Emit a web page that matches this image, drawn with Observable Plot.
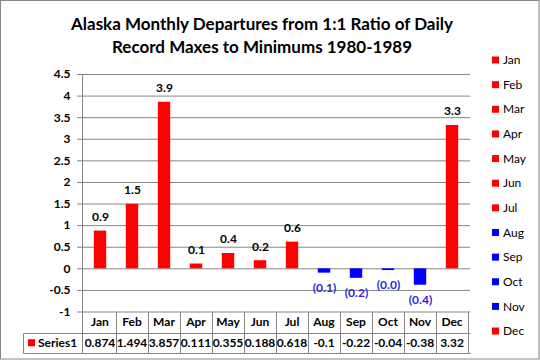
<!DOCTYPE html>
<html><head><meta charset="utf-8">
<script src="https://cdn.jsdelivr.net/npm/d3@7"></script>
<script src="https://cdn.jsdelivr.net/npm/@observablehq/plot@0.6"></script>
<style>html,body{margin:0;padding:0;background:#fff}svg{display:block}</style>
</head><body><div id="chart"></div>
<script>
const titleLines = ["Alaska Monthly Departures from 1:1 Ratio of Daily", "Record Maxes to Minimums 1980-1989"];
const months = ["Jan","Feb","Mar","Apr","May","Jun","Jul","Aug","Sep","Oct","Nov","Dec"];
const values = [0.874, 1.494, 3.857, 0.111, 0.355, 0.188, 0.618, -0.1, -0.22, -0.04, -0.38, 3.32];
const tableLabels = ["0.874","1.494","3.857","0.111","0.355","0.188","0.618","-0.1","-0.22","-0.04","-0.38","3.32"];
const seriesName = "Series1";
const yTicks = [-1, -0.5, 0, 0.5, 1, 1.5, 2, 2.5, 3, 3.5, 4, 4.5];

const POS = "#FF0000", NEG = "#0000FF", LINE = "#868686", NEG_LABEL = "#2a2ae0";
const FONT = "Lato, 'Open Sans', sans-serif";
const data = months.map((m, i) => ({month: m, value: values[i], table: tableLabels[i]}));
const fmtLabel = v => v < 0 ? `(${Math.abs(v).toFixed(1)})` : v.toFixed(1);
const colorOf = v => v < 0 ? NEG : POS;

function chrome(index, scales, vals, dims) {
  const x = scales.x;
  const bw = x(months[1]) - x(months[0]);
  const left = dims.marginLeft, right = dims.width - dims.marginRight;
  const top = dims.marginTop, bottom = dims.height - dims.marginBottom;
  const row1 = bottom + 21, row2 = row1 + 20.5;
  const cellLeft = 23.5;
  const g = d3.create("svg:g").attr("font-family", FONT);
  // outer border
  g.append("rect").attr("x", 0.5).attr("y", 0.5).attr("width", dims.width - 1.5).attr("height", dims.height - 1.5)
    .attr("fill", "none").attr("stroke", LINE).attr("stroke-width", 1);
  // title
  const t = g.append("text").attr("text-anchor", "middle").attr("font-weight", "bold").attr("font-size", 17).attr("fill", "#000");
  titleLines.forEach((s, i) => t.append("tspan").attr("x", 262).attr("y", 29.5 + i * 23).text(s));
  // value axis line + table grid
  const lines = g.append("g").attr("stroke", LINE).attr("fill", "none");
  lines.append("line").attr("x1", left + 0.5).attr("x2", left + 0.5).attr("y1", top).attr("y2", row2);
  months.forEach((m, i) => {
    const xe = Math.round(x(m) + bw) + 0.5;
    lines.append("line").attr("x1", xe).attr("x2", xe).attr("y1", bottom).attr("y2", row2);
  });
  [row1, row2].forEach(yy => lines.append("line").attr("x1", cellLeft).attr("x2", right + 0.5).attr("y1", Math.round(yy) + 0.5).attr("y2", Math.round(yy) + 0.5));
  lines.append("line").attr("x1", cellLeft).attr("x2", cellLeft).attr("y1", Math.round(row1) + 0.5).attr("y2", Math.round(row2) + 0.5);
  // header + values
  const txt = g.append("g").attr("font-size", 12).attr("font-weight", "bold").attr("fill", "#000").attr("text-anchor", "middle");
  months.forEach((m, i) => {
    const cx = x(m) + bw / 2;
    txt.append("text").attr("x", cx).attr("y", (bottom + row1) / 2).attr("dy", "0.35em").text(m);
    txt.append("text").attr("x", cx).attr("y", (row1 + row2) / 2).attr("dy", "0.35em").text(tableLabels[i]);
  });
  g.append("rect").attr("x", 28).attr("y", (row1 + row2) / 2 - 3.5).attr("width", 7).attr("height", 7).attr("fill", POS);
  g.append("text").attr("x", 38).attr("y", (row1 + row2) / 2).attr("dy", "0.35em").attr("text-anchor", "start")
    .attr("font-size", 12).attr("font-weight", "bold").attr("fill", "#000").text(seriesName);
  // legend
  const lg = g.append("g").attr("font-size", 12).attr("fill", "#000").attr("text-anchor", "start");
  months.forEach((m, i) => {
    const cy = 60 + i * 24.64;
    lg.append("rect").attr("x", 492).attr("y", cy - 3.5).attr("width", 7).attr("height", 7).attr("fill", colorOf(values[i]));
    lg.append("text").attr("x", 503).attr("y", cy).attr("dy", "0.35em").text(m);
  });
  return g.node();
}

const chart = Plot.plot({
  width: 540, height: 360,
  marginLeft: 82, marginRight: 70, marginTop: 74, marginBottom: 48.5,
  style: {fontFamily: FONT, background: "#fff", overflow: "visible"},
  x: {domain: months, padding: 0, axis: null},
  y: {domain: [-1, 4.5], axis: null},
  color: {type: "identity"},
  marks: [
    Plot.gridY(yTicks, {stroke: LINE, strokeOpacity: 1}),
    Plot.barY(data, {x: "month", y: "value", fill: d => colorOf(d.value), insetLeft: 9.8, insetRight: 9.8}),
    Plot.text(data.filter(d => d.value >= 0), {x: "month", y: "value", text: d => fmtLabel(d.value), dy: -14, fontSize: 12, fontWeight: "bold", fill: "#000"}),
    Plot.text(data.filter(d => d.value < 0), {x: "month", y: "value", text: d => fmtLabel(d.value), dy: 15, fontSize: 12, fontWeight: "bold", fill: NEG_LABEL}),
    Plot.axisY(yTicks, {tickSize: 5, tickPadding: 7, stroke: LINE, fill: "#000", fontSize: 12, fontWeight: "bold", tickFormat: d => String(d), label: null}),
    chrome
  ]
});
document.getElementById("chart").append(chart);
</script></body></html>
